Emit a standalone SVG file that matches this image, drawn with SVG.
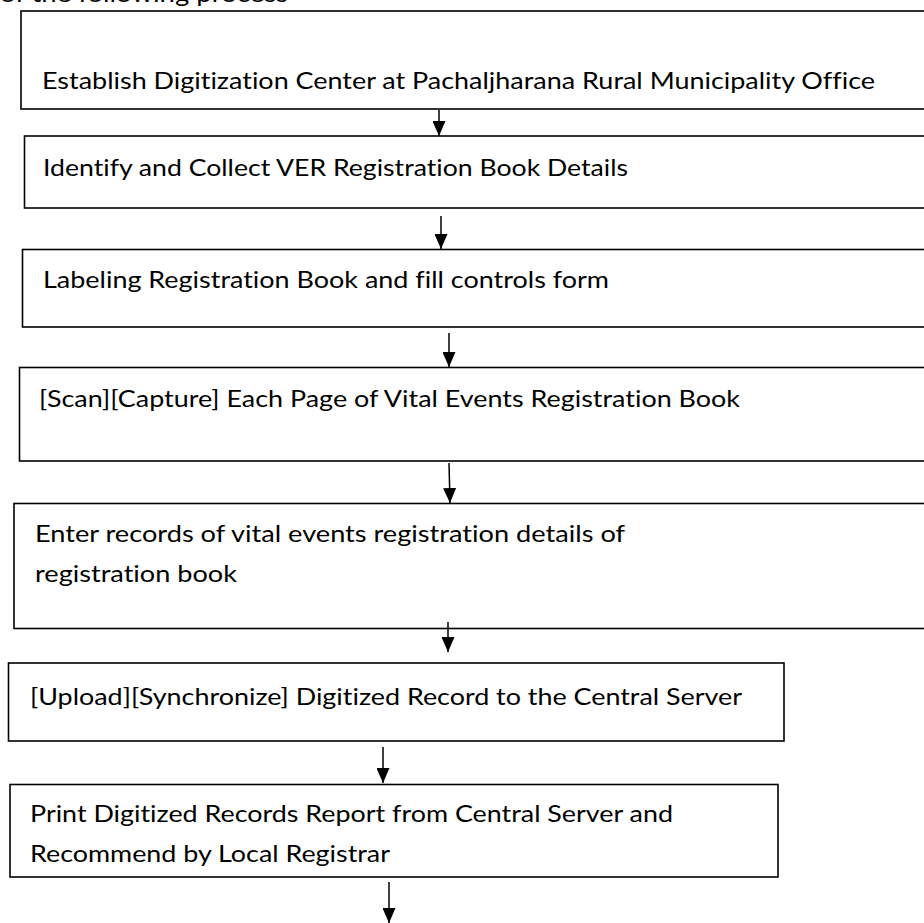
<svg xmlns="http://www.w3.org/2000/svg" width="924" height="923" viewBox="0 0 924 923">
<style>
.box{fill:#fff;stroke:#000;stroke-width:1.6}
.t{font-family:Lato,"Open Sans","Liberation Sans",sans-serif;font-size:22.5px;fill:#000;font-variant-ligatures:none}
.c{stroke:#000;stroke-width:1.5;fill:none}
</style>
<defs>
<marker id="ah" markerUnits="userSpaceOnUse" markerWidth="15" markerHeight="13" refX="15" refY="6.5" orient="auto">
<path d="M0,0 L15,6.5 L0,13 z" fill="#000"/>
</marker>
</defs>
<rect width="924" height="923" fill="#fff"/>
<text class="t" x="0" y="1.5" textLength="288" lengthAdjust="spacingAndGlyphs">of the following process</text>
<g id="n1"><rect class="box" x="21" y="11" width="920" height="98"/><text class="t" x="42" y="89" textLength="833" lengthAdjust="spacingAndGlyphs">Establish Digitization Center at Pachaljharana Rural Municipality Office</text></g>
<g id="n2"><rect class="box" x="24.5" y="136" width="920" height="72"/><text class="t" x="43" y="176" textLength="585" lengthAdjust="spacingAndGlyphs">Identify and Collect VER Registration Book Details</text></g>
<g id="n3"><rect class="box" x="22.5" y="249.5" width="920" height="77.5"/><text class="t" x="43" y="288" textLength="566" lengthAdjust="spacingAndGlyphs">Labeling Registration Book and fill controls form</text></g>
<g id="n4"><rect class="box" x="19.5" y="367.5" width="920" height="93.5"/><text class="t" x="39" y="407" textLength="701" lengthAdjust="spacingAndGlyphs">[Scan][Capture] Each Page of Vital Events Registration Book</text></g>
<g id="n5"><rect class="box" x="14" y="503.5" width="920" height="125"/><text class="t" x="35" y="542" textLength="590" lengthAdjust="spacingAndGlyphs">Enter records of vital events registration details of</text><text class="t" x="35" y="582" textLength="202" lengthAdjust="spacingAndGlyphs">registration book</text></g>
<g id="n6"><rect class="box" x="8.5" y="663" width="775.5" height="78"/><text class="t" x="30" y="705" textLength="712" lengthAdjust="spacingAndGlyphs">[Upload][Synchronize] Digitized Record to the Central Server</text></g>
<g id="n7"><rect class="box" x="10" y="784.5" width="768" height="92.5"/><text class="t" x="30" y="822" textLength="643" lengthAdjust="spacingAndGlyphs">Print Digitized Records Report from Central Server and</text><text class="t" x="30" y="862" textLength="360" lengthAdjust="spacingAndGlyphs">Recommend by Local Registrar</text></g>
<g id="connectors">
<line class="c" x1="439" y1="110" x2="439" y2="136" marker-end="url(#ah)"/>
<line class="c" x1="441" y1="216" x2="441" y2="249" marker-end="url(#ah)"/>
<line class="c" x1="449" y1="333" x2="449" y2="367" marker-end="url(#ah)"/>
<line class="c" x1="449" y1="463" x2="450" y2="503" marker-end="url(#ah)"/>
<line class="c" x1="448" y1="622" x2="448" y2="652" marker-end="url(#ah)"/>
<line class="c" x1="383" y1="747" x2="383" y2="783" marker-end="url(#ah)"/>
<line class="c" x1="389" y1="882" x2="389" y2="923" marker-end="url(#ah)"/>
</g>
</svg>
